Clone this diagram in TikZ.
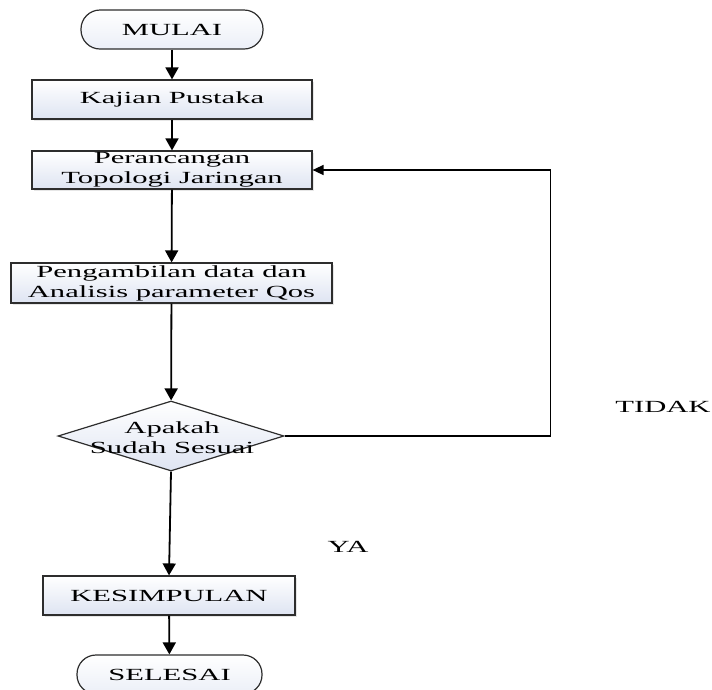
\documentclass[tikz,border=0pt]{standalone}
\usepackage{fontspec}
\setmainfont[FakeStretch=1.8]{Liberation Serif}
\usetikzlibrary{shapes.geometric, arrows.meta, positioning, shadows}

\definecolor{boxline}{RGB}{45,45,45}
\definecolor{boxlow}{RGB}{222,228,242}

\begin{document}
\begin{tikzpicture}[x=1pt, y=-1pt,
    txt/.style={font=\fontsize{17}{20}\selectfont, align=center, inner sep=0pt},
    proc/.style={txt, draw=boxline, line width=1.2pt, rectangle, top color=white, bottom color=boxlow, minimum height=39pt, drop shadow={opacity=0.2, shadow xshift=2pt, shadow yshift=-2pt}},
    term/.style={txt, draw=boxline, line width=1.2pt, rectangle, rounded corners=19pt, top color=white, bottom color=boxlow!60, minimum height=39pt},
    decide/.style={draw=boxline, line width=1.2pt, diamond, top color=white, bottom color=boxlow, minimum width=226pt, minimum height=70pt, inner sep=0pt},
    flow/.style={line width=1.8pt, -{Triangle[width=13pt,length=12pt]}},
    back/.style={line width=1.5pt, -{Triangle[width=10pt,length=11pt]}}
]
    \useasboundingbox (0,0) rectangle (712,689);

    % Terminals and steps
    \node [term, minimum width=182pt] (mulai) at (172,29.5) {MULAI};
    \node [proc, minimum width=280pt] (kajian) at (172,99.5) {Kajian Pustaka};
    \node [proc, minimum width=280pt, minimum height=38pt] (peran) at (172,170) {Perancangan\\Topologi Jaringan};
    \node [proc, minimum width=321pt, minimum height=40pt] (ambil) at (171.5,283) {Pengambilan data dan\\Analisis parameter Qos};

    % Decision
    \node [decide] (cek) at (171,436) {};
    \node [txt] (cektxt) at (172,438) {Apakah\\Sudah Sesuai};

    \node [proc, minimum width=252pt] (kesim) at (169,595.5) {KESIMPULAN};
    \node [term, minimum width=185pt] (selesai) at (169.5,674.5) {SELESAI};

    % Answer labels
    \node [txt] (tidak) at (663,407) {TIDAK};
    \node [txt] (ya) at (348,547) {YA};

    % Connections
    \draw [flow] (mulai) -- (kajian);
    \draw [flow] (kajian) -- (peran);
    \draw [flow] (peran) -- (ambil);
    \draw [flow] (ambil) -- (cek);
    \draw [flow] (cek.south) -- (kesim.north);
    \draw [flow] (kesim) -- (selesai);
    \draw [back] (cek.east) -- ++(266,0) |- (peran.east);
\end{tikzpicture}
\end{document}
